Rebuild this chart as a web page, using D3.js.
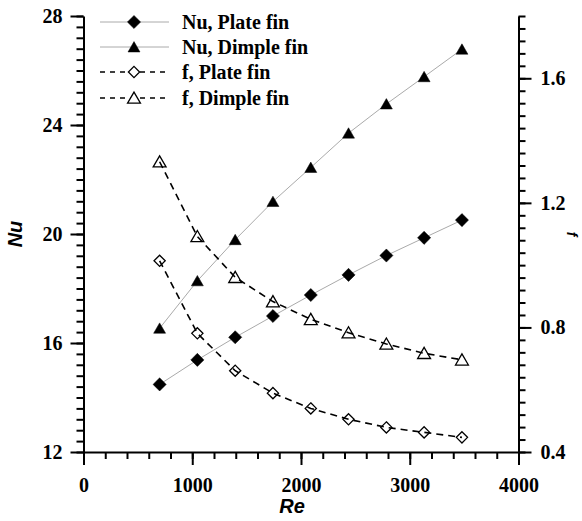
<!DOCTYPE html>
<html><head><meta charset="utf-8">
<script src="https://cdn.jsdelivr.net/npm/d3@7"></script>
<style>body{margin:0;background:#fff}</style>
</head><body>
<svg id="c" width="582" height="521"></svg>
<script>
const re = [700, 1047, 1395, 1742, 2090, 2437, 2785, 3132, 3480];
const nuPlate = [14.48, 15.38, 16.21, 16.99, 17.76, 18.50, 19.21, 19.86, 20.51];
const nuDimple = [16.54, 18.28, 19.79, 21.19, 22.44, 23.70, 24.77, 25.77, 26.78];
const fPlate = [1.014, 0.781, 0.661, 0.589, 0.540, 0.505, 0.479, 0.463, 0.447];
const fDimple = [1.332, 1.092, 0.961, 0.883, 0.826, 0.783, 0.747, 0.717, 0.696];
const xTicks = [0, 1000, 2000, 3000, 4000];
const nuTicks = [12, 16, 20, 24, 28];
const fTicks = [0.4, 0.8, 1.2, 1.6];
const legendLabels = ["Nu, Plate fin", "Nu, Dimple fin", "f, Plate fin", "f, Dimple fin"];

const svg = d3.select("#c");
const L = 83.5, R = 518.5, T = 16, B = 452;
const x = d3.scaleLinear().domain([0, 4000]).range([L, R]);
const yL = d3.scaleLinear().domain([12, 28]).range([B, T]);
const yR = d3.scaleLinear().domain([0.4, 1.8]).range([B, T]);

const serif = "'Liberation Serif','Times New Roman',serif";
const sans = "'Liberation Sans',Arial,sans-serif";

function styleAxis(g) {
  g.attr("font-family", null).attr("font-size", null);
  g.selectAll("path.domain").attr("stroke", "#000").attr("stroke-width", 2);
  g.selectAll(".tick line").attr("stroke", "#000").attr("stroke-width", 2);
  g.selectAll("text").style("font-family", serif).style("font-weight", "bold")
    .style("font-size", "20px").attr("fill", "#000");
}
function minor(g, axis) { g.call(axis); g.selectAll("text").remove(); g.select("path.domain").remove();
  g.selectAll(".tick line").attr("stroke", "#000").attr("stroke-width", 2); }

const xMinor = d3.range(0, 4001, 200);
const nuMinor = d3.range(12, 28.001, 0.4);
const fMinor = d3.range(0.4, 1.8001, 0.04);

svg.append("g").attr("transform", `translate(0,${B})`)
  .call(g => minor(g, d3.axisBottom(x).tickValues(xMinor).tickSize(7).tickSizeOuter(0)));
svg.append("g").attr("transform", `translate(${L},0)`)
  .call(g => minor(g, d3.axisLeft(yL).tickValues(nuMinor).tickSize(7).tickSizeOuter(0)));
svg.append("g").attr("transform", `translate(${R},0)`)
  .call(g => minor(g, d3.axisRight(yR).tickValues(fMinor).tickSize(7).tickSizeOuter(0)));

svg.append("g").attr("transform", `translate(0,${B})`)
  .call(d3.axisBottom(x).tickValues(xTicks).tickFormat(d3.format("d")).tickSize(13).tickSizeOuter(0).tickPadding(13))
  .call(styleAxis);
svg.append("g").attr("transform", `translate(${L},0)`)
  .call(d3.axisLeft(yL).tickValues(nuTicks).tickFormat(d3.format("d")).tickSize(13).tickSizeOuter(0).tickPadding(8))
  .call(styleAxis);
svg.append("g").attr("transform", `translate(${R},0)`)
  .call(d3.axisRight(yR).tickValues(fTicks).tickFormat(d3.format(".1f")).tickSize(13).tickSizeOuter(0).tickPadding(9))
  .call(styleAxis);

// axis titles
svg.append("text").attr("x", (L + R) / 2 - 9).attr("y", 513).attr("text-anchor", "middle")
  .style("font-family", sans).style("font-weight", "bold").style("font-style", "italic").style("font-size", "20px").text("Re");
svg.append("text").attr("transform", `translate(22,${(T + B) / 2}) rotate(-90)`).attr("text-anchor", "middle")
  .style("font-family", sans).style("font-weight", "bold").style("font-style", "italic").style("font-size", "20px").text("Nu");
svg.append("text").attr("transform", `translate(567,${(T + B) / 2}) rotate(90)`).attr("text-anchor", "middle")
  .style("font-family", sans).style("font-weight", "bold").style("font-style", "italic").style("font-size", "14px").text("f");

const series = [
  {vals: nuPlate, y: yL, dash: null, sym: d3.symbolDiamond2, fill: true, size: 110},
  {vals: nuDimple, y: yL, dash: null, sym: d3.symbolTriangle, fill: true, size: 62},
  {vals: fPlate, y: yR, dash: "7,5", sym: d3.symbolDiamond2, fill: false, size: 80},
  {vals: fDimple, y: yR, dash: "7,5", sym: d3.symbolTriangle, fill: false, size: 72}
];

function symPath(s) { return d3.symbol().type(s.sym).size(s.size)(); }
function symOffset(s) { return s.sym === d3.symbolTriangle ? 1.5 : 0; }

series.forEach(s => {
  const line = d3.line().x((d, i) => x(re[i])).y(d => s.y(d));
  svg.append("path").datum(s.vals).attr("d", line).attr("fill", "none")
    .attr("stroke", s.dash ? "#000" : "#aaa").attr("stroke-width", s.dash ? 1.6 : 1)
    .attr("stroke-dasharray", s.dash);
  svg.append("g").selectAll("path").data(s.vals).join("path")
    .attr("transform", (d, i) => `translate(${x(re[i])},${s.y(d) + symOffset(s)})`)
    .attr("d", symPath(s))
    .attr("fill", s.fill ? "#000" : "none")
    .attr("stroke", "#000").attr("stroke-width", s.fill ? 0.5 : 1.3);
});

// legend
const legY = [22, 47, 72, 98];
series.forEach((s, i) => {
  const g = svg.append("g").attr("transform", `translate(0,${legY[i]})`);
  if (s.dash) {
    g.append("line").attr("x1", 100).attr("x2", 166).attr("y1", 0).attr("y2", 0)
      .attr("stroke", "#000").attr("stroke-width", 1.6).attr("stroke-dasharray", "5,5");
  } else {
    g.append("line").attr("x1", 100).attr("x2", 169).attr("y1", 0).attr("y2", 0)
      .attr("stroke", "#aaa").attr("stroke-width", 1);
  }
  g.append("path").attr("transform", `translate(134,${symOffset(s)})`).attr("d", symPath(s))
    .attr("fill", s.fill ? "#000" : "#fff").attr("stroke", "#000").attr("stroke-width", s.fill ? 0.5 : 1.3);
  g.append("text").attr("x", 182).attr("y", 7).style("font-family", serif).style("font-weight", "bold")
    .style("font-size", "20px").attr("fill", "#000").text(legendLabels[i]);
});
</script>
</body></html>
